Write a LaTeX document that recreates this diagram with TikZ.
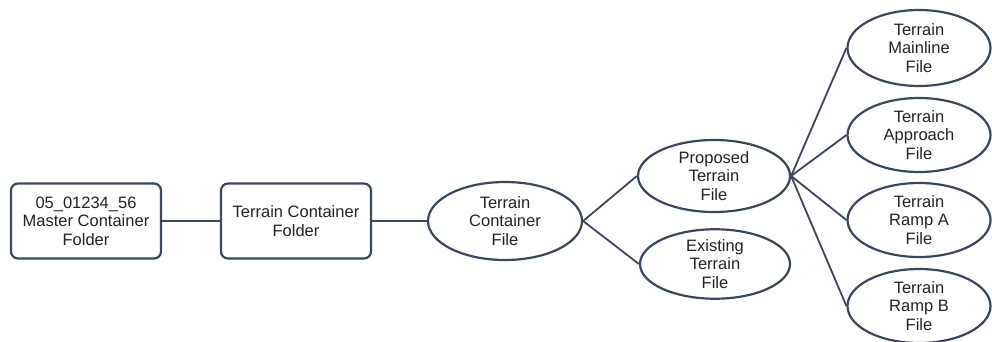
\documentclass[tikz,border=0pt]{standalone}
\usepackage{fontspec}
\setmainfont{Liberation Sans}
\usetikzlibrary{shapes.geometric}
\definecolor{edge}{HTML}{3A475A}
\definecolor{txt}{HTML}{222222}
\begin{document}
\begin{tikzpicture}[x=1pt,y=-1pt,
  every node/.style={font=\fontsize{16.5}{18.5}\selectfont, text=txt, align=center},
  box/.style={draw=edge, line width=2.2pt, rounded corners=7pt, minimum width=150pt, minimum height=75pt, inner sep=0pt},
  oval/.style={draw=edge, line width=2.2pt, ellipse, inner sep=0pt},
  link/.style={draw=edge, line width=1.8pt}]
\useasboundingbox (0,0) rectangle (992,342);
\node[box] (m) at (86,221) {05\_01234\_56\\Master Container\\Folder};
\node[box] (f) at (296,221) {Terrain Container\\Folder};
\node[oval, minimum width=154pt, minimum height=78pt] (c) at (505,221) {Terrain\\Container\\File};
\node[oval, minimum width=152pt, minimum height=72pt] (p) at (714,176) {Proposed\\Terrain\\File};
\node[oval, minimum width=150pt, minimum height=62pt] (e) at (715,264) {Existing\\Terrain\\File};
\node[oval, minimum width=143pt, minimum height=76pt] (t1) at (919,48) {Terrain\\Mainline\\File};
\node[oval, minimum width=143pt, minimum height=74pt] (t2) at (919,135) {Terrain\\Approach\\File};
\node[oval, minimum width=143pt, minimum height=74pt] (t3) at (919,220) {Terrain\\Ramp A\\File};
\node[oval, minimum width=143pt, minimum height=74pt] (t4) at (919,306) {Terrain\\Ramp B\\File};
\draw[link] (m.east) -- (f.west);
\draw[link] (f.east) -- (c.west);
\draw[link] (c.east) -- (p.west);
\draw[link] (c.east) -- (e.west);
\foreach \t in {t1,t2,t3,t4} \draw[link] (p.east) -- (\t.west);
\end{tikzpicture}
\end{document}
